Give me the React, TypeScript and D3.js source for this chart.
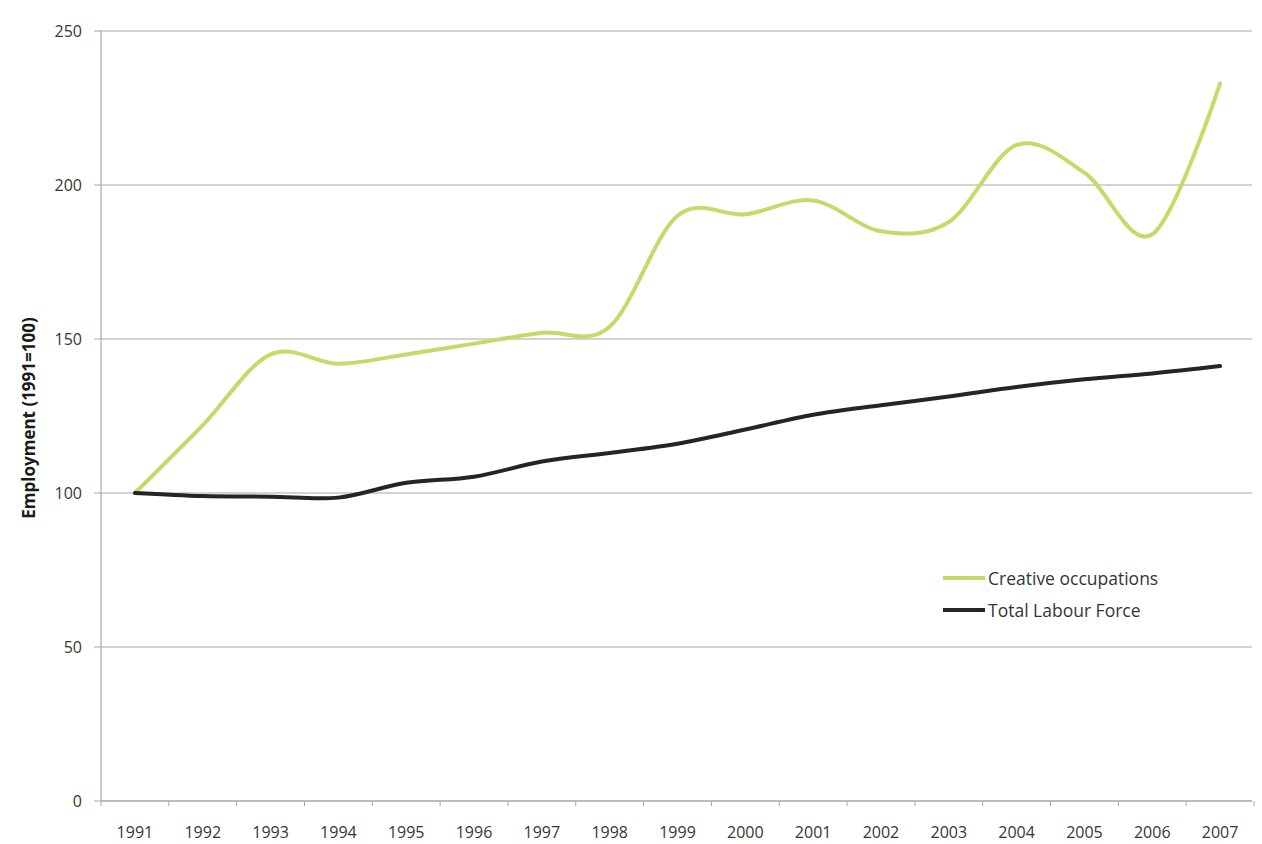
import React from 'react';
import * as d3 from 'd3';

const years = ['1991', '1992', '1993', '1994', '1995', '1996', '1997', '1998', '1999', '2000', '2001', '2002', '2003', '2004', '2005', '2006', '2007'];
const creativeOccupations = [100, 122, 145, 142, 145, 148.5, 152, 154, 190, 190.5, 195, 185, 188, 213, 204, 184, 233];
const totalLabourForce = [100, 99, 98.8, 98.5, 103.3, 105.3, 110.2, 113, 116, 120.6, 125.4, 128.5, 131.3, 134.4, 136.9, 138.8, 141.2];
const yTicks = [0, 50, 100, 150, 200, 250];

const W = 1262;
const H = 844;
const left = 101;
const right = 1254;
const top = 31;
const bottom = 801;

const GREEN = '#c6da6a';
const DARK = '#252525';
const GRID = '#a6a6a6';
const TEXT = '#363636';
const FONT = '"Open Sans", "Liberation Sans", sans-serif';

export default function App() {
  const x = d3.scaleBand<string>().domain(years).range([left, right]);
  const y = d3.scaleLinear().domain([0, 250]).range([bottom, top]);
  const cx = (i: number) => (x(years[i]) as number) + x.bandwidth() / 2;

  const line = d3
    .line<number>()
    .x((_, i) => cx(i))
    .y((d) => y(d))
    .curve(d3.curveCardinal.tension(0));

  const boundaries = years.map((yr) => x(yr) as number).concat([right]);

  return (
    <svg
      width={W}
      height={H}
      style={{ position: 'absolute', left: 0, top: 0, background: '#fff' }}
      fontFamily={FONT}
    >
      {/* horizontal gridlines with y tick labels */}
      {yTicks.map((t) => (
        <g key={t}>
          {t > 0 && (
            <line x1={left} x2={1252} y1={y(t)} y2={y(t)} stroke={GRID} strokeWidth={1} />
          )}
          <line x1={left - 7} x2={left} y1={y(t)} y2={y(t)} stroke={GRID} strokeWidth={1} />
          <text
            x={left - 19}
            y={y(t)}
            textAnchor="end"
            dominantBaseline="central"
            fontSize={16}
            fill={TEXT}
          >
            {t}
          </text>
        </g>
      ))}

      {/* axes */}
      <line x1={left} x2={left} y1={top} y2={bottom} stroke={GRID} strokeWidth={1.2} />
      <line x1={left} x2={1252} y1={bottom} y2={bottom} stroke={GRID} strokeWidth={1.5} />
      {boundaries.map((bx, i) => (
        <line key={i} x1={bx} x2={bx} y1={bottom} y2={bottom + 5} stroke={GRID} strokeWidth={1} />
      ))}
      {years.map((yr, i) => (
        <text
          key={yr}
          x={cx(i)}
          y={832}
          textAnchor="middle"
          dominantBaseline="central"
          fontSize={16}
          fill={TEXT}
        >
          {yr}
        </text>
      ))}

      {/* y axis title */}
      <text
        transform={`translate(28, ${418}) rotate(-90)`}
        textAnchor="middle"
        dominantBaseline="central"
        fontSize={17}
        fontWeight="bold"
        fill="#1a1a1a"
      >
        Employment (1991=100)
      </text>

      {/* series */}
      <path d={line(creativeOccupations) ?? ''} fill="none" stroke={GREEN} strokeWidth={4} strokeLinecap="round" />
      <path d={line(totalLabourForce) ?? ''} fill="none" stroke={DARK} strokeWidth={4} strokeLinecap="round" />

      {/* legend */}
      <g>
        <line x1={943} x2={985} y1={578} y2={578} stroke={GREEN} strokeWidth={4} />
        <text x={988} y={578} dominantBaseline="central" fontSize={17.5} fill={TEXT}>
          Creative occupations
        </text>
        <line x1={943} x2={985} y1={610} y2={610} stroke={DARK} strokeWidth={4} />
        <text x={988} y={610} dominantBaseline="central" fontSize={17.5} fill={TEXT}>
          Total Labour Force
        </text>
      </g>
    </svg>
  );
}
